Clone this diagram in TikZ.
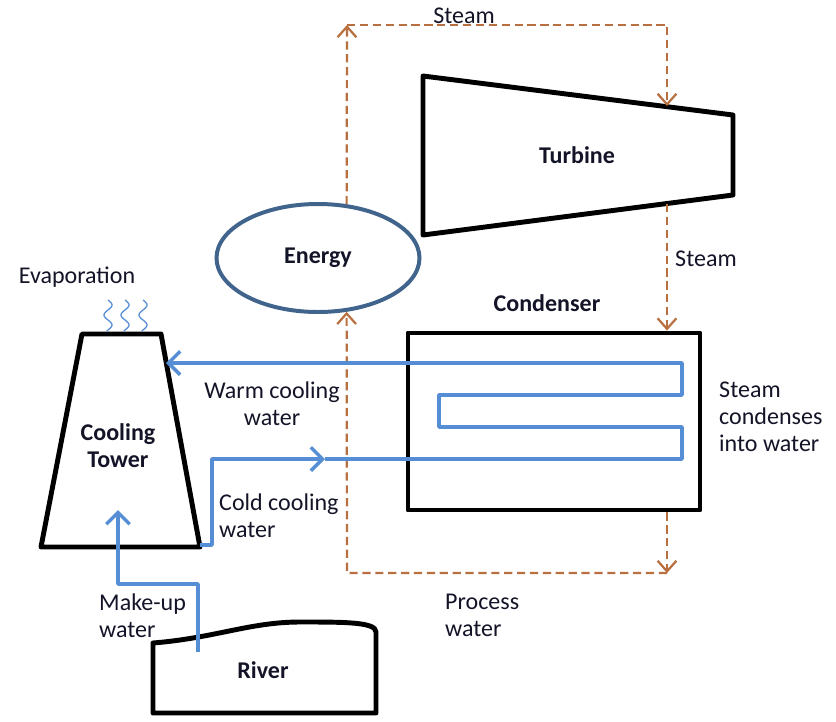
\documentclass[tikz,border=0pt]{standalone}
\usepackage{fontspec}
\setmainfont{Carlito}
\usetikzlibrary{shapes.geometric, positioning, arrows.meta, calc}
\definecolor{PipeBlue}{RGB}{85,142,213}
\definecolor{SteamBrown}{RGB}{184,112,64}
\definecolor{EnergyBlue}{RGB}{65,100,140}
\definecolor{TextInk}{RGB}{20,20,40}

\begin{document}
\begin{tikzpicture}[x=0.03cm, y=-0.03cm,
          unit/.style={draw=black, line width=4.2pt, line join=round},
          lbl/.style={font=\fontsize{20.5}{23}\selectfont, text=TextInk, align=center, inner sep=0pt},
          tag/.style={lbl, font=\fontsize{20.5}{23}\selectfont\bfseries},
          steam/.style={SteamBrown, line width=1.9pt, dash pattern=on 7pt off 4pt},
          steamarr/.style={steam, -{Straight Barb[length=9pt, width=16pt, line width=1.9pt]}},
          pipe/.style={PipeBlue, line width=3pt, line join=round},
          pipearr/.style={pipe, -{Straight Barb[length=10pt, width=20pt, line width=3pt]}},
          vap/.style={PipeBlue, line width=1.1pt}
        ]
        \useasboundingbox (0,0) rectangle (836,721);

        % Turbine and condenser
        \draw[unit] (423,76) -- (733,115) -- (733,195) -- (423,235) -- cycle;
        \node[tag] (turbine) at (577,155) {Turbine};
        \coordinate (tbTop) at (667,106);
        \coordinate (tbBot) at (667,204);
        \node[unit, rectangle, minimum width=8.76cm, minimum height=5.31cm] (condenser) at (554,421.5) {};
        \node[tag] (condlbl) at (547,303) {Condenser};

        % Energy
        \node[ellipse, draw=EnergyBlue, line width=3.4pt, minimum width=6.09cm,
              minimum height=3.24cm, inner sep=0pt] (energy) at (318,258) {};
        \node[tag] (energylbl) at (318,258) {Energy};

        % Cooling tower and river
        \draw[unit] (82,334) -- (161,334) -- (200,547) -- (41,547) -- cycle;
        \node[tag] (tower) at (118,446) {Cooling\\Tower};
        \draw[unit] (153,713) -- (153,643) .. controls (215,638) and (250,622) .. (300,622)
              .. controls (345,622) and (376,622) .. (376,632) -- (376,713) -- cycle;
        \node[tag] (river) at (263,670) {River};
        \foreach \vx in {108,125,143}
          \draw[vap] plot[domain=0:31, samples=40, smooth] ({\vx+4*sin(18*\x)}, {300+\x});

        % Steam / process water loop
        \coordinate (c1) at (347,25);
        \coordinate (c2) at (667,25);
        \coordinate (c3) at (667,573);
        \coordinate (c4) at (347,573);
        \draw[steamarr] (energy.62) -- (c1);
        \draw[steamarr] (c1) -- (c2) -- (tbTop);
        \draw[steamarr] (tbBot) -- (tbBot |- condenser.north);
        \draw[steamarr] (tbBot |- condenser.south) -- (c3);
        \draw[steamarr] (c3) -- (c4) -- (energy.-62);

        % Cooling water
        \coordinate (towerBR) at (200,545);
        \coordinate (coldMid) at (325,459);
        \coordinate (warmIn) at (166,363);
        \coordinate (mkOut) at (198,652);
        \coordinate (mkIn) at (118,510);
        \draw[pipearr] (towerBR) -- (212,545) -- (212,459) -- (coldMid);
        \draw[pipearr] (coldMid) -- (682,459) -- (682,427) -- (439,427) -- (439,395)
              -- (682,395) -- (682,363) -- (warmIn);
        \draw[pipearr] (mkOut) -- (198,584) -- (118,584) -- (mkIn);

        % Labels
        \node[lbl] (steamtop) at (464,16) {Steam};
        \node[lbl, anchor=west] (steamright) at (675,259) {Steam};
        \node[lbl] (warmlbl) at (272,404) {Warm cooling\\water};
        \node[lbl, align=left, anchor=west] (condtxt) at (719,417) {Steam\\condenses\\into water};
        \node[lbl, align=left, anchor=west] (coldlbl) at (219,516) {Cold cooling\\water};
        \node[lbl, align=left, anchor=west] (mklbl) at (99,616) {Make-up\\water};
        \node[lbl, align=left, anchor=west] (proclbl) at (445,615) {Process\\water};
        \node[lbl] (evaplbl) at (77,277) {Evaporation};
      \end{tikzpicture}
\end{document}
